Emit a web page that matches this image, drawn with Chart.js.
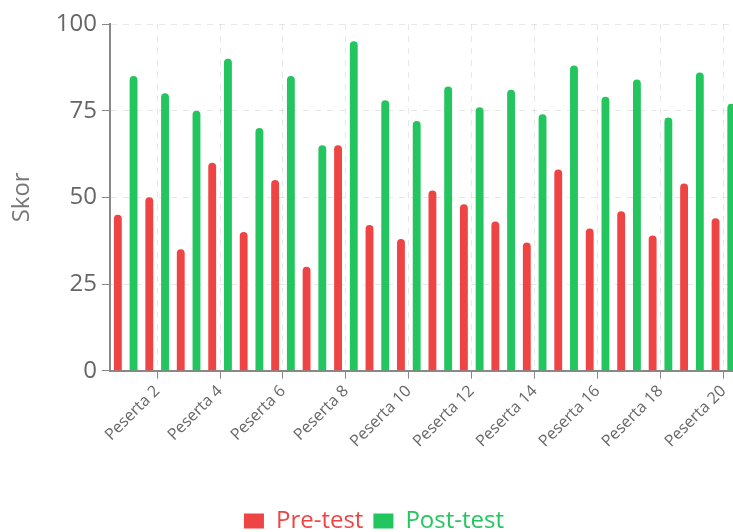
<!DOCTYPE html>
<html>
<head>
<meta charset="utf-8">
<script src="https://cdn.jsdelivr.net/npm/chart.js@4"></script>
<style>
    html, body { margin: 0; padding: 0; background: #fff; overflow: hidden; }
    #wrap { position: relative; width: 740px; height: 532px; }
</style>
</head>
<body>
<div id="wrap"><canvas id="chart"></canvas></div>
<script>
const labels = ['Peserta 1', 'Peserta 2', 'Peserta 3', 'Peserta 4', 'Peserta 5', 'Peserta 6', 'Peserta 7',
    'Peserta 8', 'Peserta 9', 'Peserta 10', 'Peserta 11', 'Peserta 12', 'Peserta 13', 'Peserta 14',
    'Peserta 15', 'Peserta 16', 'Peserta 17', 'Peserta 18', 'Peserta 19', 'Peserta 20'];
const preTest = [45, 50, 35, 60, 40, 55, 30, 65, 42, 38, 52, 48, 43, 37, 58, 41, 46, 39, 54, 44];
const postTest = [85, 80, 75, 90, 70, 85, 65, 95, 78, 72, 82, 76, 81, 74, 88, 79, 84, 73, 86, 77];

const RED = '#ef4444';
const GREEN = '#22c55e';
const FONT = "'Open Sans', 'Noto Sans', sans-serif";

Chart.defaults.font.family = FONT;
Chart.defaults.color = '#666';

const ctx = document.getElementById('chart').getContext('2d');
new Chart(ctx, {
    type: 'bar',
    data: {
        labels: labels,
        datasets: [
            {label: 'Pre-test', data: preTest, backgroundColor: RED, borderRadius: 4},
            {label: 'Post-test', data: postTest, backgroundColor: GREEN, borderRadius: 4}
        ]
    },
    options: {
        responsive: true,
        maintainAspectRatio: false,
        animation: false,
        barPercentage: 0.5,
        categoryPercentage: 1.0,
        layout: {padding: {top: 24, left: 8, right: 0, bottom: -11}},
        plugins: {
            tooltip: {enabled: false},
            legend: {
                position: 'bottom',
                labels: {
                    boxWidth: 20,
                    boxHeight: 15,
                    padding: 10,
                    font: {size: 24},
                    generateLabels: (chart) => {
                        const items = Chart.defaults.plugins.legend.labels.generateLabels(chart);
                        items.forEach((it) => { it.fontColor = chart.data.datasets[it.datasetIndex].backgroundColor; });
                        return items;
                    }
                }
            }
        },
        scales: {
            x: {
                grid: {offset: false, color: 'rgba(0,0,0,0.09)', tickColor: '#888', tickLength: 8},
                border: {color: '#888', width: 2, dash: [6, 6]},
                ticks: {
                    autoSkip: false,
                    maxRotation: 45, minRotation: 45,
                    font: {size: 16}, color: '#666',
                    // only every second participant gets a tick (and grid line)
                    callback: (v, i) => (i % 2 === 1 ? labels[i] : null)
                },
                afterFit: (scale) => { scale.height += 45; }
            },
            y: {
                min: 0,
                max: 100,
                ticks: {stepSize: 25, font: {size: 24}, color: '#666', padding: 5},
                grid: {color: 'rgba(0,0,0,0.09)', tickColor: '#888', tickLength: 8},
                border: {color: '#888', width: 2, dash: [6, 6]},
                title: {display: true, text: 'Skor', font: {size: 24}, color: '#777', padding: {top: 0, bottom: 14}}
            }
        }
    }
});
</script>
</body>
</html>
